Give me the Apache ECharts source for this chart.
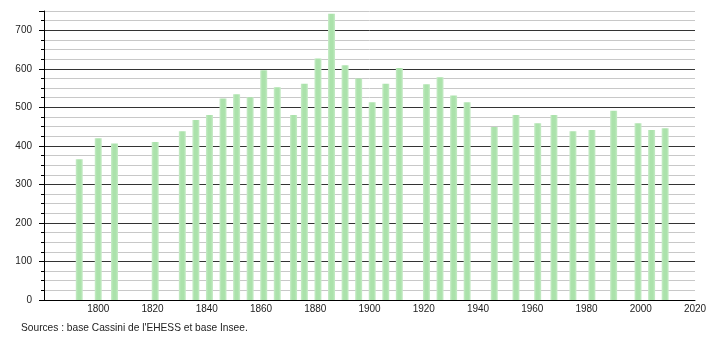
<!DOCTYPE html>
<html>
<head>
<meta charset="utf-8">
<script src="https://cdn.jsdelivr.net/npm/echarts@6/dist/echarts.min.js"></script>
<style>html,body{margin:0;padding:0;background:#fff}#c{width:710px;height:340px}</style>
</head>
<body>
<div id="c"></div>
<script>
const years = [1793,1800,1806,1821,1831,1836,1841,1846,1851,1856,1861,1866,1872,1876,1881,1886,1891,1896,1901,1906,1911,1921,1926,1931,1936,1946,1954,1962,1968,1975,1982,1990,1999,2004,2009];
const population = [365,420,406,410,438,467,480,523,534,526,596,552,480,561,627,743,609,575,513,561,602,560,578,531,513,449,480,459,480,438,441,491,459,441,446];
const sourceText = "Sources : base Cassini de l'EHESS et base Insee.";

const chart = echarts.init(document.getElementById('c'), null, {renderer: 'canvas'});
const font = '"Liberation Sans", Arial, sans-serif';
chart.setOption({
  animation: false,
  backgroundColor: '#fff',
  grid: {left: 44, right: 15, top: 11, bottom: 40},
  xAxis: {
    type: 'value', min: 1780, max: 2020, interval: 20,
    axisLine: {show: true, lineStyle: {color: '#000', width: 1}},
    axisTick: {show: false},
    splitLine: {show: false},
    axisLabel: {showMinLabel: false, margin: 4, fontSize: 10, color: '#222', fontFamily: font,
      formatter: v => String(v)}
  },
  yAxis: [{
    type: 'value', min: 0, max: 750, interval: 25,
    axisLine: {show: true, lineStyle: {color: '#000', width: 1}},
    axisTick: {show: true, length: 3, lineStyle: {color: '#000'}},
    splitLine: {show: true, lineStyle: {color: ['#333', '#c8c8c8', '#c8c8c8', '#c8c8c8'], width: 1}},
    axisLabel: {margin: 12, fontSize: 10, color: '#222', fontFamily: font,
      formatter: v => (v % 100 === 0 ? String(v) : '')}
  }, {
    type: 'value', min: 0, max: 750, interval: 100, position: 'left',
    axisLine: {show: false},
    axisTick: {show: true, length: 5, lineStyle: {color: '#000'}},
    splitLine: {show: false},
    axisLabel: {show: false}
  }],
  graphic: [{
    type: 'text', left: 21, top: 323,
    style: {text: sourceText, fontSize: 10.2, fill: '#222', fontFamily: font}
  }],
  series: [{
    type: 'bar',
    barWidth: 7,
    data: years.map((y, i) => [y, population[i]]),
    itemStyle: {
      color: new echarts.graphic.LinearGradient(0, 0, 1, 0, [
        {offset: 0, color: '#c8ecc8'},
        {offset: 0.3, color: '#abe2ab'},
        {offset: 0.7, color: '#abe2ab'},
        {offset: 1, color: '#c8ecc8'}
      ])
    }
  }]
});
</script>
</body>
</html>
